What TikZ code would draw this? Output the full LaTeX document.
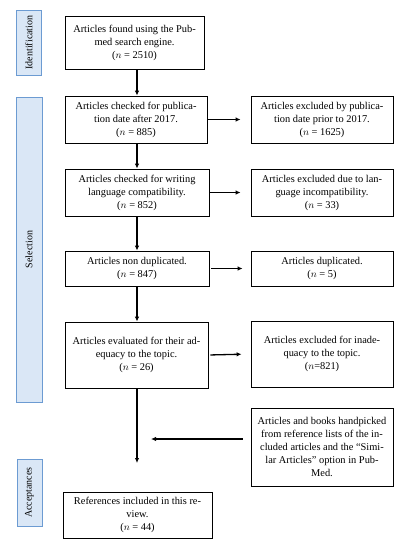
\documentclass[tikz,border=0pt]{standalone}
\usepackage{fontspec}
\setmainfont{Liberation Serif}
\usetikzlibrary{arrows.meta}
\definecolor{stagefill}{RGB}{218,231,246}
\definecolor{stageline}{RGB}{108,155,210}
\tikzset{
  box/.style={draw, line width=0.8pt, inner sep=0pt, align=center, font=\fontsize{10.4}{13}\selectfont},
  stage/.style={draw=stageline, fill=stagefill, line width=0.9pt, inner sep=0pt, rotate=90, font=\fontsize{10}{12}\selectfont},
  flow/.style={line width=1.3pt, -{Latex[length=5pt,width=4.5pt]}}
}
\begin{document}
\begin{tikzpicture}[x=1pt, y=-1pt]

	    \useasboundingbox (0,0) rectangle (402,550);

	    % stages
	    \node[stage, minimum width=65pt, minimum height=25pt] (ident) at (29,42.5) {Identification};
	    \node[stage, minimum width=305pt, minimum height=26pt] (selec) at (29,249.5) {Selection};
	    \node[stage, minimum width=67pt, minimum height=25pt] (accep) at (29.5,492.5) {Acceptances};

	    % main column
	    \node[box, minimum width=139pt, minimum height=53pt] (found) at (134.5,42.5)
	        {Articles found using the Pub-\\med search engine.\\($n$ = 2510)};
	    \node[box, minimum width=142pt, minimum height=47pt] (date) at (136,119.5)
	        {Articles checked for publica-\\tion date after 2017.\\($n$ = 885)};
	    \node[box, minimum width=144pt, minimum height=47pt] (lang) at (137,192.5)
	        {Articles checked for writing\\language compatibility.\\($n$ = 852)};
	    \node[box, minimum width=144pt, minimum height=35pt] (nodup) at (137,268.5)
	        {Articles non duplicated.\\($n$ = 847)};
	    \node[box, minimum width=143pt, minimum height=66pt] (adeq) at (136.5,355)
	        {Articles evaluated for their ad-\\equacy to the topic.\\($n$ = 26)};
	    \node[box, minimum width=149pt, minimum height=46pt] (incl) at (137.5,515)
	        {References included in this re-\\view.\\($n$ = 44)};

	    % excluded column
	    \node[box, minimum width=142pt, minimum height=47pt] (exdate) at (322,119.5)
	        {Articles excluded by publica-\\tion date prior to 2017.\\($n$ = 1625)};
	    \node[box, minimum width=142pt, minimum height=47pt] (exlang) at (322,192.5)
	        {Articles excluded due to lan-\\guage incompatibility.\\($n$ = 33)};
	    \node[box, minimum width=142pt, minimum height=35pt] (exdup) at (322,268.5)
	        {Articles duplicated.\\($n$ = 5)};
	    \node[box, minimum width=142pt, minimum height=66pt] (exadeq) at (322,354)
	        {Articles excluded for inade-\\quacy to the topic.\\($n$=821)};
	    \node[box, minimum width=142pt, minimum height=78pt] (hand) at (322,447)
	        {Articles and books handpicked\\from reference lists of the in-\\cluded articles and the ``Simi-\\lar Articles'' option in Pub-\\Med.};

	    \coordinate (merge) at (137,463);
	    \coordinate (handin) at (151,439);

	    % connectors
	    \draw[flow] (found.south -| lang.south) -- (date.north -| lang.south);
	    \draw[flow] (date.south -| lang.south) -- (lang.north);
	    \draw[flow] (lang.south) -- (nodup.north);
	    \draw[flow] (nodup.south) -- (adeq.north -| nodup.south);
	    \draw[flow] (adeq.south -| nodup.south) -- (merge);

	    \draw[flow, shorten >=10pt] (date.east |- exdate) -- (exdate.west);
	    \draw[flow, shorten >=10pt, shorten <=1pt] (lang.east) -- (exlang.west);
	    \draw[flow, shorten >=8pt, shorten <=2pt] (nodup.east) -- (exdup.west);
	    \draw[flow, shorten >=9pt, shorten <=2pt] (adeq.east) -- (exadeq.west);
	    \draw[flow, shorten <=8pt] (hand.west |- handin) -- (handin);

\end{tikzpicture}
\end{document}
